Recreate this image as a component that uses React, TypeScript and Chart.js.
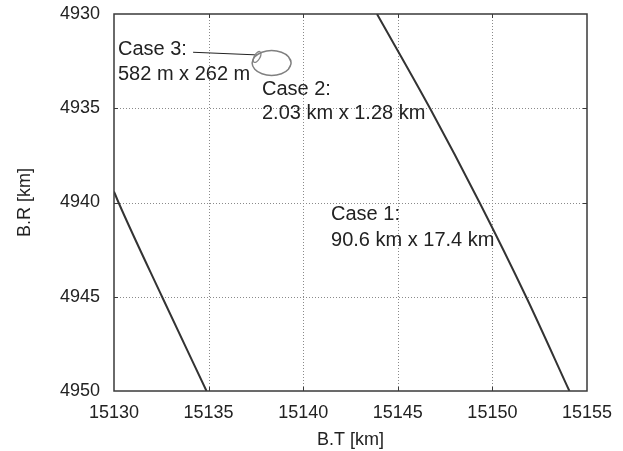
import React, { useEffect, useRef } from "react";
import { Chart, registerables } from "chart.js";

Chart.register(...registerables);

// Axis ticks
const xTicks = [15130, 15135, 15140, 15145, 15150, 15155];
const yTicks = [4930, 4935, 4940, 4945, 4950];

// Case 1 error ellipse (two visible arcs), B.T [km] / B.R [km]
const case1RightT = [15143.9, 15146.7, 15149.32, 15151.78, 15154.07];
const case1RightR = [4930, 4935, 4940, 4945, 4950];
const case1LeftT = [15130, 15130.24, 15132.54, 15134.89];
const case1LeftR = [4939.42, 4940, 4945, 4950];

// Case 2 ellipse
const case2T = [15139.22, 15139.36, 15139.22, 15138.85, 15138.33, 15137.82, 15137.44, 15137.3, 15137.44, 15137.82, 15138.33, 15138.85, 15139.22, 15139.36, 15139.22];
const case2R = [4932.27, 4932.6, 4932.93, 4933.17, 4933.26, 4933.17, 4932.93, 4932.6, 4932.27, 4932.03, 4931.94, 4932.03, 4932.27, 4932.6, 4932.93];

// Case 3 ellipse
const case3T = [15137.58, 15137.72, 15137.77, 15137.69, 15137.54, 15137.4, 15137.36, 15137.43, 15137.58, 15137.72, 15137.77];
const case3R = [4932.03, 4932.0, 4932.14, 4932.36, 4932.53, 4932.56, 4932.42, 4932.21, 4932.03, 4932.0, 4932.14];

// Leader line for Case 3 label
const leaderT = [15134.18, 15137.54];
const leaderR = [4932.03, 4932.17];

// Annotation labels (anchor in data units)
const labelTexts = ["Case 3:", "582 m x 262 m", "Case 2:", "2.03 km x 1.28 km", "Case 1:", "90.6 km x 17.4 km"];
const labelT = [15130.21, 15130.21, 15137.82, 15137.82, 15141.47, 15141.47];
const labelR = [4931.9, 4933.23, 4934.03, 4935.3, 4940.62, 4942.0];

const pts = (xs: number[], ys: number[]) => xs.map((x, i) => ({ x, y: ys[i] }));

const FONT = "'Liberation Sans', Arial, Helvetica, sans-serif";

const framePlugin = {
  id: "framePlugin",
  beforeDatasetsDraw(chart: any) {
    const { ctx, chartArea: a, scales } = chart;
    ctx.save();
    ctx.strokeStyle = "#8a8a8a";
    ctx.lineWidth = 1;
    ctx.setLineDash([1, 2]);
    xTicks.slice(1, -1).forEach((v) => {
      const p = Math.round(scales.x.getPixelForValue(v)) + 0.5;
      ctx.beginPath();
      ctx.moveTo(p, a.top);
      ctx.lineTo(p, a.bottom);
      ctx.stroke();
    });
    yTicks.slice(1, -1).forEach((v) => {
      const p = Math.round(scales.y.getPixelForValue(v)) + 0.5;
      ctx.beginPath();
      ctx.moveTo(a.left, p);
      ctx.lineTo(a.right, p);
      ctx.stroke();
    });
    ctx.restore();
  },
  afterDatasetsDraw(chart: any) {
    const { ctx, chartArea: a, scales } = chart;
    ctx.save();
    ctx.strokeStyle = "#3a3a3a";
    ctx.lineWidth = 1.5;
    ctx.strokeRect(a.left, a.top, a.right - a.left, a.bottom - a.top);
    ctx.lineWidth = 1;
    const L = 4;
    xTicks.slice(1, -1).forEach((v) => {
      const p = Math.round(scales.x.getPixelForValue(v)) + 0.5;
      ctx.beginPath();
      ctx.moveTo(p, a.bottom);
      ctx.lineTo(p, a.bottom - L);
      ctx.moveTo(p, a.top);
      ctx.lineTo(p, a.top + L);
      ctx.stroke();
    });
    yTicks.slice(1, -1).forEach((v) => {
      const p = Math.round(scales.y.getPixelForValue(v)) + 0.5;
      ctx.beginPath();
      ctx.moveTo(a.left, p);
      ctx.lineTo(a.left + L, p);
      ctx.moveTo(a.right, p);
      ctx.lineTo(a.right - L, p);
      ctx.stroke();
    });
    // annotations
    ctx.fillStyle = "#222";
    ctx.font = `20px ${FONT}`;
    ctx.textAlign = "left";
    ctx.textBaseline = "middle";
    labelTexts.forEach((t, i) => {
      ctx.fillText(t, scales.x.getPixelForValue(labelT[i]), scales.y.getPixelForValue(labelR[i]));
    });
    ctx.restore();
  },
};

export default function App() {
  const ref = useRef<HTMLCanvasElement>(null);
  useEffect(() => {
    if (!ref.current) return;
    const lineDs = (data: any[], color: string, width: number) => ({
      type: "line" as const,
      data,
      borderColor: color,
      borderWidth: width,
      pointRadius: 0,
      tension: 0.4,
      fill: false,
      showLine: true,
    });
    const chart = new Chart(ref.current, {
      type: "scatter",
      data: {
        datasets: [
          { ...lineDs(pts(case1RightT, case1RightR), "#333", 2), cubicInterpolationMode: "monotone" },
          { ...lineDs(pts(case1LeftT, case1LeftR), "#333", 2), cubicInterpolationMode: "monotone" },
          lineDs(pts(case2T, case2R), "#808080", 1.5),
          lineDs(pts(case3T, case3R), "#888", 1.3),
          { ...lineDs(pts(leaderT, leaderR), "#222", 1), tension: 0 },
        ],
      },
      options: {
        responsive: false,
        animation: false,
        devicePixelRatio: 1,
        layout: { padding: { top: 14, right: 36, bottom: 0, left: 0 } },
        plugins: { legend: { display: false }, tooltip: { enabled: false } },
        scales: {
          x: {
            type: "linear",
            min: xTicks[0],
            max: xTicks[xTicks.length - 1],
            grid: { display: false, drawTicks: false },
            border: { display: false },
            afterBuildTicks: (s: any) => {
              s.ticks = xTicks.map((v) => ({ value: v }));
            },
            afterFit: (s: any) => {
              s.height = 60;
              s.paddingLeft = 0;
              s.paddingRight = 0;
            },
            ticks: {
              color: "#222",
              font: { family: FONT, size: 18 },
              padding: 11,
              maxRotation: 0,
              callback: (v: any) => String(v),
            },
            title: {
              display: true,
              text: "B.T [km]",
              color: "#222",
              font: { family: FONT, size: 18 },
              padding: { top: 0, bottom: 0 },
            },
          },
          y: {
            type: "linear",
            reverse: true,
            min: yTicks[0],
            max: yTicks[yTicks.length - 1],
            grid: { display: false, drawTicks: false },
            border: { display: false },
            afterBuildTicks: (s: any) => {
              s.ticks = yTicks.map((v) => ({ value: v }));
            },
            afterFit: (s: any) => {
              s.width = 114;
              s.paddingTop = 0;
              s.paddingBottom = 0;
            },
            ticks: {
              color: "#222",
              font: { family: FONT, size: 18 },
              padding: 14,
              callback: (v: any) => String(v),
            },
            title: {
              display: true,
              text: "B.R [km]",
              color: "#222",
              font: { family: FONT, size: 18 },
              padding: { top: 14, bottom: 0 },
            },
          },
        },
      },
      plugins: [framePlugin],
    } as any);
    return () => chart.destroy();
  }, []);
  return (
    <div style={{ position: "absolute", left: 0, top: 0, width: 623, height: 451, background: "#fff" }}>
      <canvas ref={ref} width={623} height={451} style={{ width: 623, height: 451, display: "block" }} />
    </div>
  );
}
